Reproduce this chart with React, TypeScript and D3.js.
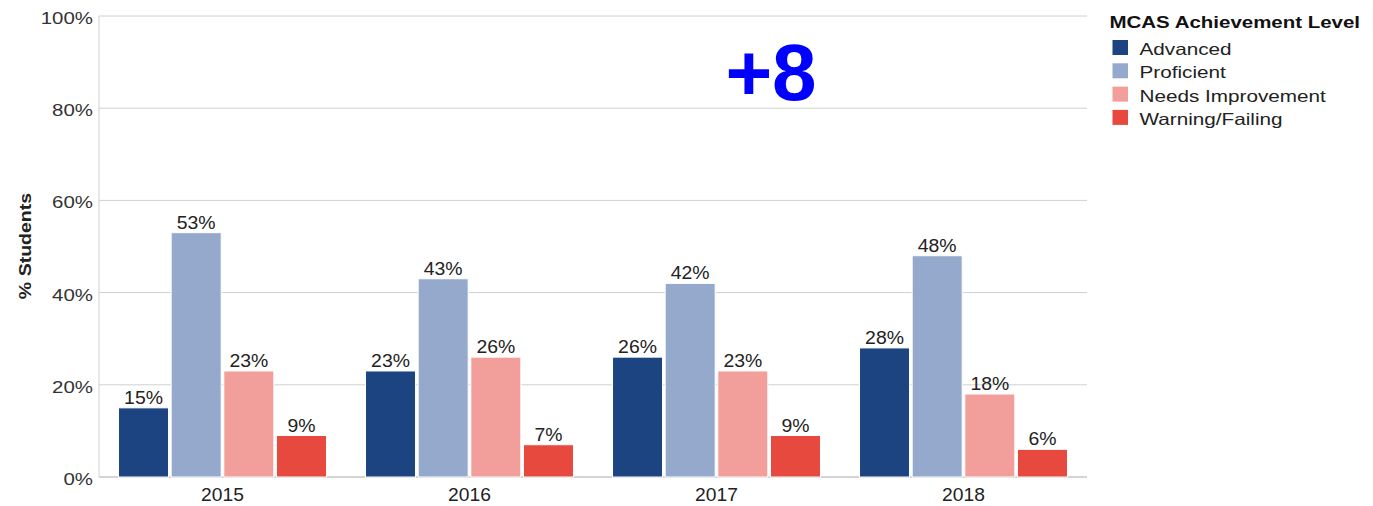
import React from "react";
import * as d3 from "d3";

const years = ["2015", "2016", "2017", "2018"];
const levels = ["Advanced", "Proficient", "Needs Improvement", "Warning/Failing"];
const advanced = [15, 23, 26, 28];
const proficient = [53, 43, 42, 48];
const needsImprovement = [23, 26, 23, 18];
const warningFailing = [9, 7, 9, 6];
const yTicks = [0, 20, 40, 60, 80, 100];
const colors = ["#1c4480", "#95a9cc", "#f29e9b", "#e8493e"];
const annotation = "+8";

const series = [advanced, proficient, needsImprovement, warningFailing];

function T(props: { x: number; y: number; sx: number; size: number; anchor?: string; weight?: string; fill?: string; rotate?: number; children: React.ReactNode }) {
  const { x, y, sx, size, anchor = "start", weight = "normal", fill = "#222", rotate = 0, children } = props;
  return (
    <text transform={`translate(${x},${y}) rotate(${rotate}) scale(${sx},1)`} textAnchor={anchor} fontSize={size} fontWeight={weight} fill={fill}>
      {children}
    </text>
  );
}

export default function App() {
  const W = 1373, H = 506;
  const left = 99, right = 1087, top = 16, bottom = 477;
  const x = d3.scaleBand<string>().domain(years).range([left, right]).paddingInner(0.158).paddingOuter(0.079);
  const inner = d3.scaleBand<string>().domain(levels).range([0, x.bandwidth()]).paddingInner(0.05);
  const y = d3.scaleLinear().domain([0, 100]).range([bottom, top]);
  const font = "'Liberation Sans', Arial, sans-serif";
  return (
    <svg width={W} height={H} style={{ position: "absolute", left: 0, top: 0 }} fontFamily={font}>
      <rect width={W} height={H} fill="#fff" />
      {yTicks.map((t) => (
        <g key={t}>
          <line x1={left} x2={right} y1={y(t)} y2={y(t)} stroke={t === 0 ? "#aaa" : "#d0d0d0"} strokeWidth={1} />
          <T x={93} y={y(t) + 8} sx={1.24} size={16.5} anchor="end" fill="#333">{t}%</T>
        </g>
      ))}
      <line x1={left} x2={left} y1={top} y2={bottom} stroke="#d0d0d0" />
      <T x={31} y={246} sx={1.15} size={17} anchor="middle" weight="bold" rotate={-90}>% Students</T>
      {years.map((yr, i) => (
        <g key={yr}>
          {series.map((s, j) => {
            const bx = (x(yr) as number) + (inner(levels[j]) as number);
            return (
              <g key={j}>
                <rect x={bx} y={y(s[i])} width={inner.bandwidth()} height={bottom - y(s[i])} fill={colors[j]} stroke="#fff" strokeWidth={1} />
                <T x={bx + inner.bandwidth() / 2} y={y(s[i]) - 4} sx={1.05} size={18.5} anchor="middle">{s[i]}%</T>
              </g>
            );
          })}
          <T x={(x(yr) as number) + x.bandwidth() / 2} y={501} sx={1.1} size={17.5} anchor="middle">{yr}</T>
        </g>
      ))}
      <text x={771} y={100} textAnchor="middle" fontSize={80} fontWeight="bold" fill="#0000ff">{annotation}</text>
      <T x={1109.5} y={27.5} sx={1.28} size={16} weight="bold" fill="#111">MCAS Achievement Level</T>
      {levels.map((l, j) => (
        <g key={l}>
          <rect x={1112.5} y={40 + j * 23.3} width={15.5} height={15} fill={colors[j]} />
          <T x={1139.5} y={55 + j * 23.3} sx={1.27} size={16.3}>{l}</T>
        </g>
      ))}
    </svg>
  );
}
